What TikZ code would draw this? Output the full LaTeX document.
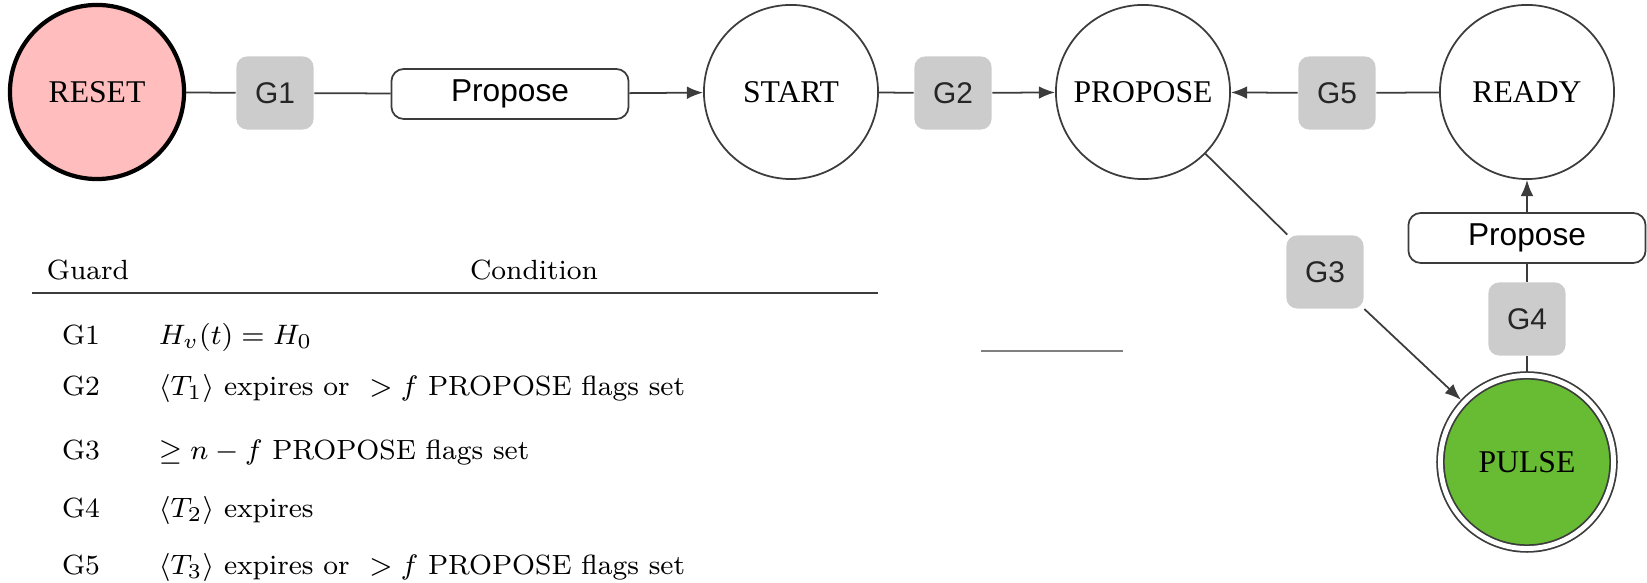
\documentclass[tikz,border=0pt]{standalone}
\usepackage{amsmath}
\usepackage{fontspec}
\usepackage{tikz}
\usetikzlibrary{arrows.meta}
\newfontfamily\statefont{Liberation Serif}
\newfontfamily\boxfont{Liberation Sans}
\definecolor{resetfill}{RGB}{255,189,189}
\definecolor{pulsefill}{RGB}{104,188,52}
\definecolor{guardfill}{RGB}{204,204,204}
\definecolor{linie}{RGB}{60,60,60}

\begin{document}
\begin{tikzpicture}[x=0.01cm, y=-0.01cm, linie, line width=0.5pt,
	>={Latex[length=4.6pt,width=3.6pt]},
	state/.style={circle, draw, minimum size=1.74cm, inner sep=0pt, text=black,
		font=\statefont\fontsize{9}{10}\selectfont},
	guard/.style={rounded corners=3pt, fill=guardfill, minimum width=0.77cm,
		minimum height=0.73cm, inner sep=0pt, text=black!85,
		font=\boxfont\fontsize{8.5}{10}\selectfont},
	action/.style={draw, rounded corners=3.5pt, fill=white, minimum width=2.37cm,
		minimum height=0.5cm, inner sep=0pt, text=black,
		font=\boxfont\fontsize{9}{10}\selectfont},
	cell/.style={text=black, inner sep=0pt, font=\fontsize{7.9}{9}\selectfont}]

	\useasboundingbox (0,0) rectangle (1647,583);

	% states and guards
	\node[state, fill=resetfill, draw=black, line width=1.2pt] (reset) at (97,92) {RESET};
	\node[guard] (g1) at (275,93) {G1};
	\node[action] (propA) at (510,94) {Propose};
	\node[state] (start) at (791,92) {START};
	\node[guard] (g2) at (953,93) {G2};
	\node[state] (propose) at (1143,92) {PROPOSE};
	\node[guard] (g5) at (1337,93) {G5};
	\node[state] (ready) at (1527,92) {READY};
	\node[action] (propB) at (1527,238) {Propose};
	\node[guard] (g4) at (1527,319) {G4};
	\node[guard] (g3) at (1325,272) {G3};
	\node[state, fill=pulsefill, double, double distance=1.4pt, minimum size=1.73cm,
		outer sep=1.2pt] (pulse) at (1527,462) {PULSE};

	% transitions
	\draw (reset) -- (g1);
	\draw (g1) -- (propA);
	\draw[->] (propA) -- (start);
	\draw (start) -- (g2);
	\draw[->] (g2) -- (propose);
	\draw (ready) -- (g5);
	\draw[->] (g5) -- (propose);
	\draw (propose) -- (g3);
	\draw[->] (g3) -- (pulse);
	\draw (pulse) -- (g4);
	\draw (g4) -- (propB);
	\draw[->] (propB) -- (ready);

	\draw[gray, line width=0.6pt] (981,351) -- (1123,351);

	% guard table
	\node[cell, anchor=base] (hguard) at (88,280) {Guard};
	\node[cell, anchor=base] (hcond) at (534,280) {Condition};
	\draw[line width=0.8pt] (32,293) -- (878,293);

	\node[cell, anchor=base] (r1g) at (81,345) {G1};
	\node[cell, anchor=base west] (r1c) at (158,345) {$H_v(t) = H_0$};
	\node[cell, anchor=base] (r2g) at (81,396) {G2};
	\node[cell, anchor=base west] (r2c) at (158,396) {$\langle T_1\rangle$ expires or~ $>f$ PROPOSE flags set};
	\node[cell, anchor=base] (r3g) at (81,460) {G3};
	\node[cell, anchor=base west] (r3c) at (158,460) {$\geq n-f$ PROPOSE flags set};
	\node[cell, anchor=base] (r4g) at (81,518) {G4};
	\node[cell, anchor=base west] (r4c) at (158,518) {$\langle T_2\rangle$ expires};
	\node[cell, anchor=base] (r5g) at (81,575) {G5};
	\node[cell, anchor=base west] (r5c) at (158,575) {$\langle T_3\rangle$ expires or~ $>f$ PROPOSE flags set};
\end{tikzpicture}
\end{document}
